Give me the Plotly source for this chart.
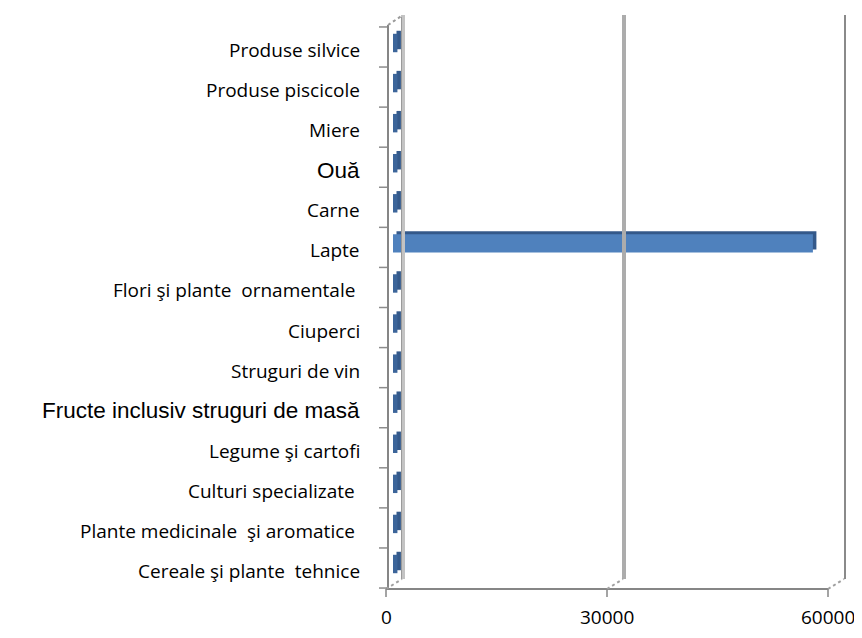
import plotly.graph_objects as go

# ---- data (bottom to top) ----
categories = [
    "Cereale şi plante  tehnice",
    "Plante medicinale  şi aromatice ",
    "Culturi specializate ",
    "Legume şi cartofi",
    "Fructe inclusiv struguri de masă",
    "Struguri de vin",
    "Ciuperci",
    "Flori şi plante  ornamentale ",
    "Lapte",
    "Carne",
    "Ouă",
    "Miere",
    "Produse piscicole",
    "Produse silvice",
]
values = [600, 600, 600, 600, 600, 600, 600, 600, 57000, 600, 600, 600, 600, 600]
arial_labels = ["Fructe inclusiv struguri de masă", "Ouă"]
tick_vals = [0, 30000, 60000]
tick_labels = ["0", "30000", "60000"]

# ---- geometry (page pixels; page has an 8px body margin) ----
OFF = 8
W, H = 862 - 2 * OFF, 638 - 2 * OFF
L, R, T, B = 375, 853, 10, 600            # plot area, page pixels
X0PX, X60PX = 393, 835                    # page pixel of value 0 and 60000
PPU = (X60PX - X0PX) / 60000.0
xr = [(L - X0PX) / PPU, (R - X0PX) / PPU]
TOPC, BOTC = 43, 564                      # bar centre page pixels (top, bottom category)
PPC = (BOTC - TOPC) / 13.0
yr = [-(B - BOTC) / PPC, 13 + (TOPC - T) / PPC]

def py(p):  # page pixel y -> paper
    return (B - p) / (B - T)

def pxp(p):  # page pixel x -> paper
    return (p - L) / (R - L)

n = len(categories)
idx = list(range(n))
depth_base = 3.5 / PPU

fig = go.Figure()
fig.add_trace(go.Bar(
    y=[i + 3.0 / PPC for i in idx], x=values, base=[depth_base] * n, orientation="h",
    width=0.46, marker=dict(color="#34598a", line=dict(width=0)),
    hoverinfo="skip", showlegend=False))
fig.add_trace(go.Bar(
    y=idx, x=values, orientation="h", width=0.46,
    marker=dict(color=["#4f81bd" if v > 5000 else "#3c659a" for v in values],
                line=dict(width=0)),
    showlegend=False))

shapes = []
GRAY = "#868686"
shapes.append(dict(type="line", xref="x", xsizemode="pixel", xanchor=0, x0=-5, x1=-5,
                   yref="paper", y0=py(589), y1=py(25), line=dict(color=GRAY, width=2)))
shapes.append(dict(type="line", xref="x", xsizemode="pixel", xanchor=0, x0=-5, x1=10,
                   yref="paper", y0=py(25), y1=py(15), line=dict(color="#9a9a9a", width=2, dash="dot")))
shapes.append(dict(type="line", xref="x", xsizemode="pixel", xanchor=0, x0=-7, x1=(tick_vals[-1] * PPU) - 7,
                   yref="paper", y0=py(589), y1=py(589), line=dict(color=GRAY, width=2)))
for k, tv in enumerate(tick_vals):
    lw = 4 if k < 2 else 2
    col = "#c3c3c3" if k == 0 else ("#acacac" if k == 1 else "#8a8a8a")
    shapes.append(dict(type="line", xref="x", xsizemode="pixel", xanchor=tv, x0=10, x1=10,
                       yref="paper", y0=py(579), y1=py(15), line=dict(color=col, width=lw)))
    if k == 0:
        shapes.append(dict(type="line", xref="x", xsizemode="pixel", xanchor=tv, x0=8.5, x1=8.5,
                           yref="paper", y0=py(579), y1=py(17), line=dict(color="#9a9a9a", width=1)))
    shapes.append(dict(type="line", xref="x", xsizemode="pixel", xanchor=tv, x0=-7, x1=9,
                       yref="paper", y0=py(589), y1=py(579), line=dict(color="#a0a0a0", width=2, dash="dot")))
    shapes.append(dict(type="line", xref="x", xsizemode="pixel", xanchor=tv, x0=-7, x1=-7,
                       yref="paper", y0=py(589), y1=py(597), line=dict(color=GRAY, width=1.5)))
for k in range(n + 1):
    yb = k - 0.5 - 4.0 / PPC
    shapes.append(dict(type="line", xref="x", xsizemode="pixel", xanchor=0, x0=-14, x1=-6,
                       yref="y", y0=yb, y1=yb, line=dict(color="#8c8c8c", width=1.5)))

annotations = []
for i, c in enumerate(categories):
    if c in arial_labels:
        f = dict(family="Liberation Sans, Arial", size=22.5, color="#000000")
    else:
        f = dict(family="Open Sans, Carlito, Calibri", size=19, color="#000000")
    annotations.append(dict(text=c, xref="paper", x=pxp(362), xanchor="right",
                            yref="y", y=i, yshift=-7, yanchor="middle", showarrow=False, font=f))
for tv, tl in zip(tick_vals, tick_labels):
    annotations.append(dict(text=tl, xref="x", x=tv, xshift=-7, yref="paper", y=py(617),
                            yanchor="middle", xanchor="center", showarrow=False,
                            font=dict(family="Open Sans, Carlito, Calibri", size=19, color="#000000")))

fig.update_layout(
    width=W, height=H, barmode="overlay",
    margin=dict(l=L - OFF, r=W - (R - OFF), t=T - OFF, b=H - (B - OFF), pad=0),
    paper_bgcolor="white", plot_bgcolor="white",
    xaxis=dict(range=xr, showgrid=False, zeroline=False, showline=False, showticklabels=False,
               tickvals=tick_vals, fixedrange=True),
    yaxis=dict(range=yr, showgrid=False, zeroline=False, showline=False, showticklabels=False,
               fixedrange=True),
    shapes=shapes, annotations=annotations,
)
fig.write_html("out.html")
